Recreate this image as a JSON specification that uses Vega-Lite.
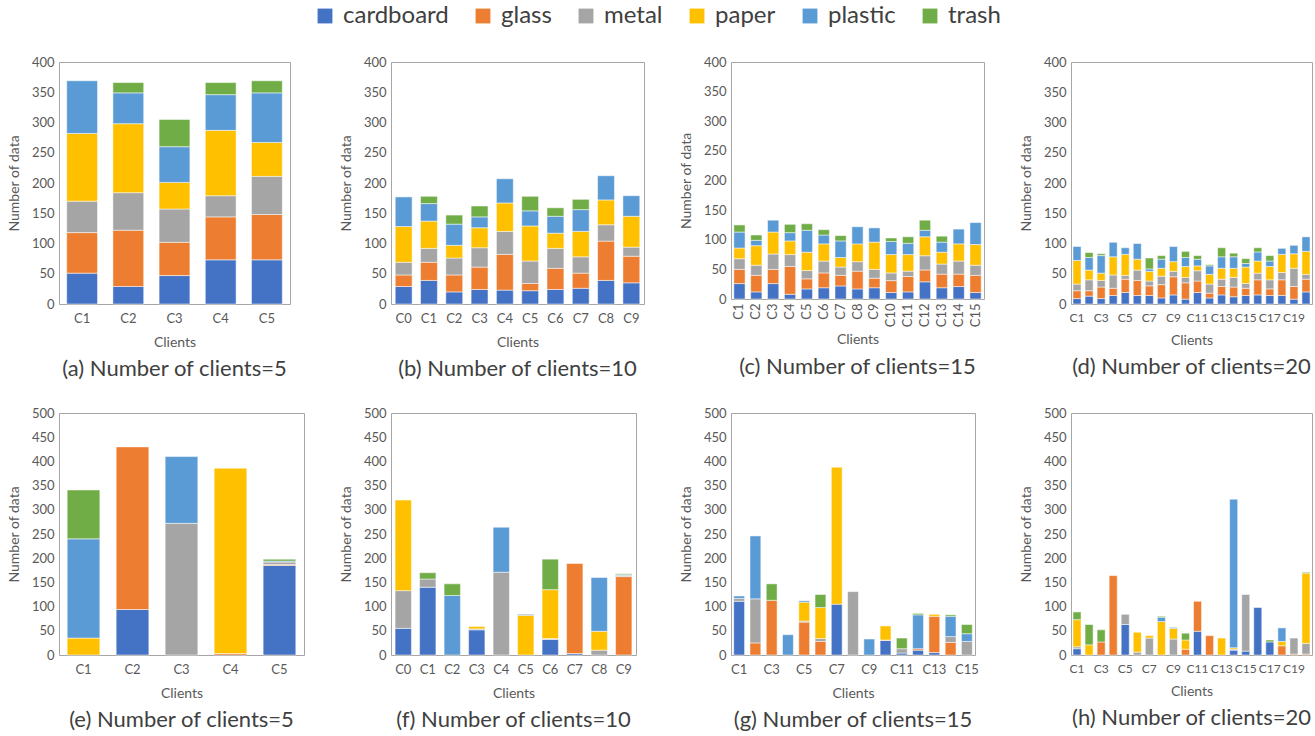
{
  "$schema": "https://vega.github.io/schema/vega-lite/v6.json",
  "background": "white",
  "padding": {"left": 6, "top": 4, "right": 4, "bottom": 4},
  "datasets": {
    "a": [
      {"c": "C1", "cardboard": 51, "glass": 67, "metal": 52, "paper": 112, "plastic": 87, "trash": 0},
      {"c": "C2", "cardboard": 29, "glass": 93, "metal": 62, "paper": 114, "plastic": 51, "trash": 17},
      {"c": "C3", "cardboard": 47, "glass": 55, "metal": 55, "paper": 44, "plastic": 59, "trash": 45},
      {"c": "C4", "cardboard": 73, "glass": 71, "metal": 35, "paper": 108, "plastic": 59, "trash": 20},
      {"c": "C5", "cardboard": 73, "glass": 75, "metal": 63, "paper": 56, "plastic": 82, "trash": 20}
    ],
    "b": [
      {"c": "C0", "cardboard": 29, "glass": 19, "metal": 21, "paper": 59, "plastic": 49, "trash": 0},
      {"c": "C1", "cardboard": 39, "glass": 30, "metal": 23, "paper": 45, "plastic": 29, "trash": 12},
      {"c": "C2", "cardboard": 20, "glass": 28, "metal": 28, "paper": 21, "plastic": 35, "trash": 15},
      {"c": "C3", "cardboard": 24, "glass": 37, "metal": 32, "paper": 33, "plastic": 18, "trash": 18},
      {"c": "C4", "cardboard": 23, "glass": 59, "metal": 38, "paper": 47, "plastic": 40, "trash": 0},
      {"c": "C5", "cardboard": 22, "glass": 12, "metal": 37, "paper": 58, "plastic": 25, "trash": 24},
      {"c": "C6", "cardboard": 24, "glass": 35, "metal": 33, "paper": 25, "plastic": 28, "trash": 14},
      {"c": "C7", "cardboard": 26, "glass": 25, "metal": 27, "paper": 42, "plastic": 36, "trash": 17},
      {"c": "C8", "cardboard": 39, "glass": 65, "metal": 27, "paper": 41, "plastic": 40, "trash": 0},
      {"c": "C9", "cardboard": 35, "glass": 44, "metal": 15, "paper": 51, "plastic": 34, "trash": 0}
    ],
    "c": [
      {"c": "C1", "cardboard": 26, "glass": 24, "metal": 18, "paper": 18, "plastic": 27, "trash": 12},
      {"c": "C2", "cardboard": 12, "glass": 28, "metal": 17, "paper": 33, "plastic": 9, "trash": 9},
      {"c": "C3", "cardboard": 26, "glass": 24, "metal": 26, "paper": 37, "plastic": 20, "trash": 0},
      {"c": "C4", "cardboard": 8, "glass": 47, "metal": 20, "paper": 23, "plastic": 14, "trash": 14},
      {"c": "C5", "cardboard": 17, "glass": 17, "metal": 14, "paper": 31, "plastic": 37, "trash": 11},
      {"c": "C6", "cardboard": 19, "glass": 25, "metal": 20, "paper": 29, "plastic": 15, "trash": 9},
      {"c": "C7", "cardboard": 22, "glass": 18, "metal": 14, "paper": 16, "plastic": 28, "trash": 9},
      {"c": "C8", "cardboard": 17, "glass": 30, "metal": 16, "paper": 30, "plastic": 29, "trash": 0},
      {"c": "C9", "cardboard": 19, "glass": 16, "metal": 15, "paper": 46, "plastic": 24, "trash": 0},
      {"c": "C10", "cardboard": 11, "glass": 20, "metal": 13, "paper": 31, "plastic": 22, "trash": 6},
      {"c": "C11", "cardboard": 12, "glass": 26, "metal": 9, "paper": 28, "plastic": 19, "trash": 11},
      {"c": "C12", "cardboard": 29, "glass": 20, "metal": 24, "paper": 32, "plastic": 11, "trash": 17},
      {"c": "C13", "cardboard": 19, "glass": 23, "metal": 17, "paper": 20, "plastic": 17, "trash": 10},
      {"c": "C14", "cardboard": 21, "glass": 21, "metal": 22, "paper": 29, "plastic": 25, "trash": 0},
      {"c": "C15", "cardboard": 11, "glass": 29, "metal": 17, "paper": 35, "plastic": 37, "trash": 0}
    ],
    "d": [
      {"c": "C1", "cardboard": 9, "glass": 13, "metal": 11, "paper": 39, "plastic": 23, "trash": 0},
      {"c": "C2", "cardboard": 13, "glass": 9, "metal": 18, "paper": 16, "plastic": 21, "trash": 8},
      {"c": "C3", "cardboard": 9, "glass": 19, "metal": 11, "paper": 12, "plastic": 29, "trash": 3},
      {"c": "C4", "cardboard": 14, "glass": 12, "metal": 22, "paper": 30, "plastic": 24, "trash": 0},
      {"c": "C5", "cardboard": 19, "glass": 22, "metal": 6, "paper": 35, "plastic": 11, "trash": 0},
      {"c": "C6", "cardboard": 14, "glass": 25, "metal": 17, "paper": 18, "plastic": 26, "trash": 0},
      {"c": "C7", "cardboard": 14, "glass": 16, "metal": 8, "paper": 16, "plastic": 4, "trash": 18},
      {"c": "C8", "cardboard": 10, "glass": 22, "metal": 14, "paper": 13, "plastic": 15, "trash": 6},
      {"c": "C9", "cardboard": 15, "glass": 30, "metal": 9, "paper": 16, "plastic": 25, "trash": 0},
      {"c": "C10", "cardboard": 8, "glass": 27, "metal": 9, "paper": 18, "plastic": 15, "trash": 10},
      {"c": "C11", "cardboard": 19, "glass": 19, "metal": 17, "paper": 8, "plastic": 11, "trash": 6},
      {"c": "C12", "cardboard": 10, "glass": 8, "metal": 15, "paper": 16, "plastic": 14, "trash": 2},
      {"c": "C13", "cardboard": 15, "glass": 14, "metal": 12, "paper": 18, "plastic": 19, "trash": 15},
      {"c": "C14", "cardboard": 12, "glass": 16, "metal": 16, "paper": 15, "plastic": 19, "trash": 6},
      {"c": "C15", "cardboard": 14, "glass": 12, "metal": 8, "paper": 27, "plastic": 6, "trash": 8},
      {"c": "C16", "cardboard": 15, "glass": 25, "metal": 11, "paper": 20, "plastic": 15, "trash": 7},
      {"c": "C17", "cardboard": 14, "glass": 11, "metal": 15, "paper": 22, "plastic": 9, "trash": 9},
      {"c": "C18", "cardboard": 14, "glass": 26, "metal": 12, "paper": 30, "plastic": 10, "trash": 0},
      {"c": "C19", "cardboard": 8, "glass": 21, "metal": 30, "paper": 24, "plastic": 14, "trash": 0},
      {"c": "C20", "cardboard": 20, "glass": 21, "metal": 8, "paper": 38, "plastic": 24, "trash": 0}
    ],
    "e": [
      {"c": "C1", "cardboard": 0, "glass": 0, "metal": 0, "paper": 35, "plastic": 205, "trash": 101},
      {"c": "C2", "cardboard": 94, "glass": 336, "metal": 0, "paper": 0, "plastic": 0, "trash": 0},
      {"c": "C3", "cardboard": 0, "glass": 0, "metal": 272, "paper": 0, "plastic": 138, "trash": 0},
      {"c": "C4", "cardboard": 0, "glass": 3, "metal": 0, "paper": 383, "plastic": 0, "trash": 0},
      {"c": "C5", "cardboard": 185, "glass": 2, "metal": 5, "paper": 0, "plastic": 2, "trash": 4}
    ],
    "f": [
      {"c": "C0", "cardboard": 55, "glass": 0, "metal": 78, "paper": 187, "plastic": 0, "trash": 0},
      {"c": "C1", "cardboard": 140, "glass": 0, "metal": 17, "paper": 0, "plastic": 0, "trash": 13},
      {"c": "C2", "cardboard": 0, "glass": 0, "metal": 0, "paper": 0, "plastic": 123, "trash": 24},
      {"c": "C3", "cardboard": 52, "glass": 0, "metal": 2, "paper": 5, "plastic": 0, "trash": 0},
      {"c": "C4", "cardboard": 0, "glass": 0, "metal": 171, "paper": 0, "plastic": 93, "trash": 0},
      {"c": "C5", "cardboard": 0, "glass": 0, "metal": 0, "paper": 82, "plastic": 2, "trash": 0},
      {"c": "C6", "cardboard": 32, "glass": 0, "metal": 2, "paper": 101, "plastic": 0, "trash": 63},
      {"c": "C7", "cardboard": 3, "glass": 186, "metal": 0, "paper": 0, "plastic": 0, "trash": 0},
      {"c": "C8", "cardboard": 0, "glass": 0, "metal": 10, "paper": 39, "plastic": 111, "trash": 0},
      {"c": "C9", "cardboard": 0, "glass": 162, "metal": 2, "paper": 0, "plastic": 2, "trash": 2}
    ],
    "g": [
      {"c": "C1", "cardboard": 111, "glass": 0, "metal": 6, "paper": 0, "plastic": 5, "trash": 0},
      {"c": "C2", "cardboard": 0, "glass": 25, "metal": 91, "paper": 0, "plastic": 130, "trash": 0},
      {"c": "C3", "cardboard": 0, "glass": 113, "metal": 0, "paper": 0, "plastic": 0, "trash": 34},
      {"c": "C4", "cardboard": 0, "glass": 0, "metal": 0, "paper": 0, "plastic": 42, "trash": 0},
      {"c": "C5", "cardboard": 0, "glass": 68, "metal": 2, "paper": 39, "plastic": 3, "trash": 0},
      {"c": "C6", "cardboard": 0, "glass": 28, "metal": 6, "paper": 64, "plastic": 0, "trash": 27},
      {"c": "C7", "cardboard": 105, "glass": 0, "metal": 0, "paper": 283, "plastic": 0, "trash": 0},
      {"c": "C8", "cardboard": 0, "glass": 0, "metal": 131, "paper": 0, "plastic": 0, "trash": 0},
      {"c": "C9", "cardboard": 0, "glass": 0, "metal": 0, "paper": 0, "plastic": 33, "trash": 0},
      {"c": "C10", "cardboard": 30, "glass": 1, "metal": 0, "paper": 29, "plastic": 0, "trash": 0},
      {"c": "C11", "cardboard": 4, "glass": 0, "metal": 9, "paper": 0, "plastic": 0, "trash": 22},
      {"c": "C12", "cardboard": 10, "glass": 3, "metal": 0, "paper": 0, "plastic": 70, "trash": 3},
      {"c": "C13", "cardboard": 5, "glass": 75, "metal": 0, "paper": 4, "plastic": 0, "trash": 0},
      {"c": "C14", "cardboard": 0, "glass": 26, "metal": 12, "paper": 0, "plastic": 42, "trash": 3},
      {"c": "C15", "cardboard": 0, "glass": 0, "metal": 28, "paper": 0, "plastic": 16, "trash": 19}
    ],
    "h": [
      {"c": "C1", "cardboard": 13, "glass": 0, "metal": 4, "paper": 56, "plastic": 0, "trash": 16},
      {"c": "C2", "cardboard": 0, "glass": 0, "metal": 0, "paper": 21, "plastic": 0, "trash": 42},
      {"c": "C3", "cardboard": 0, "glass": 27, "metal": 0, "paper": 0, "plastic": 0, "trash": 25},
      {"c": "C4", "cardboard": 0, "glass": 164, "metal": 0, "paper": 0, "plastic": 0, "trash": 0},
      {"c": "C5", "cardboard": 63, "glass": 0, "metal": 21, "paper": 0, "plastic": 0, "trash": 0},
      {"c": "C6", "cardboard": 0, "glass": 0, "metal": 6, "paper": 41, "plastic": 0, "trash": 0},
      {"c": "C7", "cardboard": 0, "glass": 0, "metal": 35, "paper": 5, "plastic": 0, "trash": 0},
      {"c": "C8", "cardboard": 0, "glass": 0, "metal": 0, "paper": 69, "plastic": 9, "trash": 2},
      {"c": "C9", "cardboard": 0, "glass": 0, "metal": 33, "paper": 22, "plastic": 2, "trash": 0},
      {"c": "C10", "cardboard": 0, "glass": 12, "metal": 0, "paper": 19, "plastic": 0, "trash": 14},
      {"c": "C11", "cardboard": 49, "glass": 62, "metal": 0, "paper": 0, "plastic": 0, "trash": 0},
      {"c": "C12", "cardboard": 0, "glass": 40, "metal": 0, "paper": 0, "plastic": 0, "trash": 0},
      {"c": "C13", "cardboard": 0, "glass": 0, "metal": 0, "paper": 35, "plastic": 0, "trash": 0},
      {"c": "C14", "cardboard": 10, "glass": 0, "metal": 2, "paper": 3, "plastic": 307, "trash": 0},
      {"c": "C15", "cardboard": 8, "glass": 0, "metal": 117, "paper": 0, "plastic": 0, "trash": 0},
      {"c": "C16", "cardboard": 98, "glass": 0, "metal": 0, "paper": 0, "plastic": 0, "trash": 0},
      {"c": "C17", "cardboard": 27, "glass": 0, "metal": 0, "paper": 0, "plastic": 0, "trash": 4},
      {"c": "C18", "cardboard": 0, "glass": 19, "metal": 0, "paper": 9, "plastic": 28, "trash": 0},
      {"c": "C19", "cardboard": 0, "glass": 2, "metal": 33, "paper": 0, "plastic": 0, "trash": 0},
      {"c": "C20", "cardboard": 0, "glass": 2, "metal": 22, "paper": 145, "plastic": 0, "trash": 2}
    ]
  },
  "columns": 4,
  "bounds": "flush",
  "align": "each",
  "spacing": {"row": 109, "column": 87},
  "concat": [
    {
      "width": 231, "height": 242,
      "title": {"text": "(a) Number of clients=5"},
      "data": {"name": "a"},
      "transform": [{"fold": ["cardboard", "glass", "metal", "paper", "plastic", "trash"], "as": ["category", "value"]}, {"filter": "datum.value > 0"}],
      "mark": {"type": "bar", "stroke": "white", "strokeWidth": 0.5},
      "encoding": {
        "x": {"field": "c", "type": "nominal", "sort": null, "title": "Clients", "scale": {"paddingInner": 0.333, "paddingOuter": 0.167}, "axis": {"labelAngle": 0}},
        "y": {"field": "value", "type": "quantitative", "stack": "zero", "title": "Number of data", "scale": {"domain": [0, 400]}, "axis": {"values": [0, 50, 100, 150, 200, 250, 300, 350, 400]}},
        "order": {"field": "category", "sort": "ascending"},
        "color": {"field": "category", "type": "nominal", "scale": {"domain": ["cardboard", "glass", "metal", "paper", "plastic", "trash"], "range": ["#4472C4", "#ED7D31", "#A5A5A5", "#FFC000", "#5B9BD5", "#70AD47"]}, "legend": {"orient": "none", "legendX": 254, "legendY": -58, "direction": "horizontal", "columns": 6, "title": null}}
      }
    },
    {
      "width": 253, "height": 242,
      "title": {"text": "(b) Number of clients=10"},
      "data": {"name": "b"},
      "transform": [{"fold": ["cardboard", "glass", "metal", "paper", "plastic", "trash"], "as": ["category", "value"]}, {"filter": "datum.value > 0"}],
      "mark": {"type": "bar", "stroke": "white", "strokeWidth": 0.5},
      "encoding": {
        "x": {"field": "c", "type": "nominal", "sort": null, "title": "Clients", "scale": {"paddingInner": 0.333, "paddingOuter": 0.167}, "axis": {"labelAngle": 0}},
        "y": {"field": "value", "type": "quantitative", "stack": "zero", "title": "Number of data", "scale": {"domain": [0, 400]}, "axis": {"values": [0, 50, 100, 150, 200, 250, 300, 350, 400]}},
        "order": {"field": "category", "sort": "ascending"},
        "color": {"field": "category", "type": "nominal", "scale": {"domain": ["cardboard", "glass", "metal", "paper", "plastic", "trash"], "range": ["#4472C4", "#ED7D31", "#A5A5A5", "#FFC000", "#5B9BD5", "#70AD47"]}, "legend": {"orient": "none", "legendX": 254, "legendY": -58, "direction": "horizontal", "columns": 6, "title": null}}
      }
    },
    {
      "width": 253, "height": 237,
      "title": {"text": "(c) Number of clients=15"},
      "data": {"name": "c"},
      "transform": [{"fold": ["cardboard", "glass", "metal", "paper", "plastic", "trash"], "as": ["category", "value"]}, {"filter": "datum.value > 0"}],
      "mark": {"type": "bar", "stroke": "white", "strokeWidth": 0.5},
      "encoding": {
        "x": {"field": "c", "type": "nominal", "sort": null, "title": "Clients", "scale": {"paddingInner": 0.333, "paddingOuter": 0.167}, "axis": {"labelAngle": 270, "labelPadding": 4, "titlePadding": 6}},
        "y": {"field": "value", "type": "quantitative", "stack": "zero", "title": "Number of data", "scale": {"domain": [0, 400]}, "axis": {"values": [0, 50, 100, 150, 200, 250, 300, 350, 400]}},
        "order": {"field": "category", "sort": "ascending"},
        "color": {"field": "category", "type": "nominal", "scale": {"domain": ["cardboard", "glass", "metal", "paper", "plastic", "trash"], "range": ["#4472C4", "#ED7D31", "#A5A5A5", "#FFC000", "#5B9BD5", "#70AD47"]}, "legend": {"orient": "none", "legendX": 254, "legendY": -58, "direction": "horizontal", "columns": 6, "title": null}}
      }
    },
    {
      "width": 241, "height": 242,
      "title": {"text": "(d) Number of clients=20"},
      "data": {"name": "d"},
      "transform": [{"fold": ["cardboard", "glass", "metal", "paper", "plastic", "trash"], "as": ["category", "value"]}, {"filter": "datum.value > 0"}],
      "mark": {"type": "bar", "stroke": "white", "strokeWidth": 0.5},
      "encoding": {
        "x": {"field": "c", "type": "nominal", "sort": null, "title": "Clients", "scale": {"paddingInner": 0.333, "paddingOuter": 0.167}, "axis": {"labelAngle": 0, "labelFontSize": 12, "values": ["C1", "C3", "C5", "C7", "C9", "C11", "C13", "C15", "C17", "C19"]}},
        "y": {"field": "value", "type": "quantitative", "stack": "zero", "title": "Number of data", "scale": {"domain": [0, 400]}, "axis": {"values": [0, 50, 100, 150, 200, 250, 300, 350, 400]}},
        "order": {"field": "category", "sort": "ascending"},
        "color": {"field": "category", "type": "nominal", "scale": {"domain": ["cardboard", "glass", "metal", "paper", "plastic", "trash"], "range": ["#4472C4", "#ED7D31", "#A5A5A5", "#FFC000", "#5B9BD5", "#70AD47"]}, "legend": {"orient": "none", "legendX": 254, "legendY": -58, "direction": "horizontal", "columns": 6, "title": null}}
      }
    },
    {
      "width": 245, "height": 242,
      "title": {"text": "(e) Number of clients=5"},
      "data": {"name": "e"},
      "transform": [{"fold": ["cardboard", "glass", "metal", "paper", "plastic", "trash"], "as": ["category", "value"]}, {"filter": "datum.value > 0"}],
      "mark": {"type": "bar", "stroke": "white", "strokeWidth": 0.5},
      "encoding": {
        "x": {"field": "c", "type": "nominal", "sort": null, "title": "Clients", "scale": {"paddingInner": 0.333, "paddingOuter": 0.167}, "axis": {"labelAngle": 0}},
        "y": {"field": "value", "type": "quantitative", "stack": "zero", "title": "Number of data", "scale": {"domain": [0, 500]}, "axis": {"values": [0, 50, 100, 150, 200, 250, 300, 350, 400, 450, 500]}},
        "order": {"field": "category", "sort": "ascending"},
        "color": {"field": "category", "type": "nominal", "scale": {"domain": ["cardboard", "glass", "metal", "paper", "plastic", "trash"], "range": ["#4472C4", "#ED7D31", "#A5A5A5", "#FFC000", "#5B9BD5", "#70AD47"]}, "legend": {"orient": "none", "legendX": 254, "legendY": -58, "direction": "horizontal", "columns": 6, "title": null}}
      }
    },
    {
      "width": 245, "height": 242,
      "title": {"text": "(f) Number of clients=10"},
      "data": {"name": "f"},
      "transform": [{"fold": ["cardboard", "glass", "metal", "paper", "plastic", "trash"], "as": ["category", "value"]}, {"filter": "datum.value > 0"}],
      "mark": {"type": "bar", "stroke": "white", "strokeWidth": 0.5},
      "encoding": {
        "x": {"field": "c", "type": "nominal", "sort": null, "title": "Clients", "scale": {"paddingInner": 0.333, "paddingOuter": 0.167}, "axis": {"labelAngle": 0}},
        "y": {"field": "value", "type": "quantitative", "stack": "zero", "title": "Number of data", "scale": {"domain": [0, 500]}, "axis": {"values": [0, 50, 100, 150, 200, 250, 300, 350, 400, 450, 500]}},
        "order": {"field": "category", "sort": "ascending"},
        "color": {"field": "category", "type": "nominal", "scale": {"domain": ["cardboard", "glass", "metal", "paper", "plastic", "trash"], "range": ["#4472C4", "#ED7D31", "#A5A5A5", "#FFC000", "#5B9BD5", "#70AD47"]}, "legend": {"orient": "none", "legendX": 254, "legendY": -58, "direction": "horizontal", "columns": 6, "title": null}}
      }
    },
    {
      "width": 244, "height": 242,
      "title": {"text": "(g) Number of clients=15"},
      "data": {"name": "g"},
      "transform": [{"fold": ["cardboard", "glass", "metal", "paper", "plastic", "trash"], "as": ["category", "value"]}, {"filter": "datum.value > 0"}],
      "mark": {"type": "bar", "stroke": "white", "strokeWidth": 0.5},
      "encoding": {
        "x": {"field": "c", "type": "nominal", "sort": null, "title": "Clients", "scale": {"paddingInner": 0.333, "paddingOuter": 0.167}, "axis": {"labelAngle": 0, "values": ["C1", "C3", "C5", "C7", "C9", "C11", "C13", "C15"]}},
        "y": {"field": "value", "type": "quantitative", "stack": "zero", "title": "Number of data", "scale": {"domain": [0, 500]}, "axis": {"values": [0, 50, 100, 150, 200, 250, 300, 350, 400, 450, 500]}},
        "order": {"field": "category", "sort": "ascending"},
        "color": {"field": "category", "type": "nominal", "scale": {"domain": ["cardboard", "glass", "metal", "paper", "plastic", "trash"], "range": ["#4472C4", "#ED7D31", "#A5A5A5", "#FFC000", "#5B9BD5", "#70AD47"]}, "legend": {"orient": "none", "legendX": 254, "legendY": -58, "direction": "horizontal", "columns": 6, "title": null}}
      }
    },
    {
      "width": 241, "height": 242,
      "title": {"text": "(h) Number of clients=20"},
      "data": {"name": "h"},
      "transform": [{"fold": ["cardboard", "glass", "metal", "paper", "plastic", "trash"], "as": ["category", "value"]}, {"filter": "datum.value > 0"}],
      "mark": {"type": "bar", "stroke": "white", "strokeWidth": 0.5},
      "encoding": {
        "x": {"field": "c", "type": "nominal", "sort": null, "title": "Clients", "scale": {"paddingInner": 0.333, "paddingOuter": 0.167}, "axis": {"labelAngle": 0, "labelFontSize": 12, "values": ["C1", "C3", "C5", "C7", "C9", "C11", "C13", "C15", "C17", "C19"]}},
        "y": {"field": "value", "type": "quantitative", "stack": "zero", "title": "Number of data", "scale": {"domain": [0, 500]}, "axis": {"values": [0, 50, 100, 150, 200, 250, 300, 350, 400, 450, 500]}},
        "order": {"field": "category", "sort": "ascending"},
        "color": {"field": "category", "type": "nominal", "scale": {"domain": ["cardboard", "glass", "metal", "paper", "plastic", "trash"], "range": ["#4472C4", "#ED7D31", "#A5A5A5", "#FFC000", "#5B9BD5", "#70AD47"]}, "legend": {"orient": "none", "legendX": 254, "legendY": -58, "direction": "horizontal", "columns": 6, "title": null}}
      }
    }
  ],
  "resolve": {"scale": {"x": "independent", "y": "independent"}},
  "config": {
    "font": "Lato",
    "view": {"stroke": "#A6A6A6", "strokeWidth": 1},
    "axis": {"grid": false, "domain": false, "ticks": false, "labelColor": "#595959", "labelFontSize": 13, "labelPadding": 6, "titleColor": "#595959", "titleFontSize": 14, "titleFontWeight": "normal", "titlePadding": 8},
    "axisY": {"labelPadding": 5, "titlePadding": 10},
    "axisX": {"labelPadding": 8, "titlePadding": 10},
    "title": {"orient": "bottom", "anchor": "middle", "fontSize": 22, "fontWeight": "normal", "color": "#404040", "offset": 10},
    "legend": {"symbolType": "square", "symbolSize": 220, "symbolStrokeWidth": 0, "labelFontSize": 24, "labelColor": "#404040", "columnPadding": 22, "labelOffset": 6, "labelLimit": 300}
  }
}
